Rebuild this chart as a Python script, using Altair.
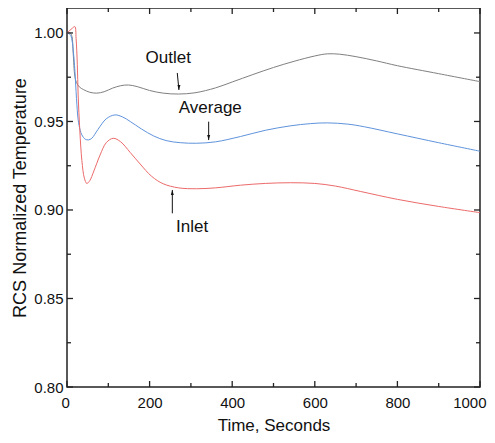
import altair as alt
import pandas as pd

W, H = 413, 379
X_DOMAIN = [0, 1000]
Y_DOMAIN = [0.80, 1.0141]

# ---- data ----
series_names = ["Outlet", "Average", "Inlet"]
series_colors = ["#808080", "#5f93dc", "#ec6a6a"]

outlet_t = [0, 8, 12, 15, 19, 23, 30, 40, 55, 72, 90, 110, 130, 149, 170, 200, 233, 270, 310,
            360, 400, 450, 500, 550, 600, 630, 660, 700, 750, 800, 900, 1000]
outlet_v = [1.000, 1.000, 0.998, 0.9885, 0.9755, 0.972, 0.9695, 0.968, 0.9665, 0.966, 0.9668,
            0.9688, 0.9702, 0.9706, 0.9697, 0.9675, 0.966, 0.9655, 0.9662, 0.969, 0.9723,
            0.9765, 0.9805, 0.984, 0.987, 0.9882, 0.988, 0.9866, 0.9842, 0.9815, 0.977, 0.9725]

average_t = [0, 8, 12, 16, 19, 23, 27, 32, 36, 44, 52, 60, 75, 95, 116, 135, 153, 180, 210, 240,
             275, 314, 360, 420, 480, 540, 590, 630, 680, 720, 800, 900, 1000]
average_v = [1.000, 0.999, 0.996, 0.988, 0.979, 0.963, 0.951, 0.945, 0.9424, 0.940, 0.9396,
             0.9405, 0.9455, 0.9515, 0.9537, 0.9525, 0.950, 0.9458, 0.9418, 0.9392, 0.9380,
             0.9377, 0.9385, 0.9415, 0.945, 0.9475, 0.9488, 0.9492, 0.9485, 0.947, 0.943,
             0.938, 0.9332]

inlet_t = [0, 7, 12, 19, 22, 25, 27, 31, 36, 42, 48, 55, 65, 80, 95, 112, 130, 153, 177, 205,
           233, 270, 314, 360, 420, 480, 541, 600, 650, 710, 800, 900, 1000]
inlet_v = [1.000, 1.0015, 1.0025, 1.0036, 0.997, 0.982, 0.965, 0.945, 0.928, 0.918, 0.915,
           0.9165, 0.922, 0.931, 0.938, 0.9405, 0.9385, 0.9325, 0.926, 0.919, 0.9148, 0.9125,
           0.912, 0.9125, 0.914, 0.915, 0.9154, 0.915, 0.9135, 0.9105, 0.906, 0.902, 0.8985]

x_major = [0, 200, 400, 600, 800, 1000]
x_minor = [100, 300, 500, 700, 900]
y_major = [0.80, 0.85, 0.90, 0.95, 1.00]
y_minor = [0.825, 0.875, 0.925, 0.975]

label_text = ["Outlet", "Average", "Inlet"]
label_t = [245, 347, 303]
label_v = [0.9857, 0.9576, 0.8904]

arrow_id = ["o", "o", "a", "a", "i", "i"]
arrow_t = [267, 271, 343, 343, 255, 255]
arrow_v = [0.9774, 0.9678, 0.9499, 0.9395, 0.8981, 0.9113]

head_t = [271, 343, 255]
head_v = [0.9678, 0.9395, 0.9113]
head_dir = ["down", "down", "up"]

# ---- tables ----
rows = []
for name, ts, vs in [("Outlet", outlet_t, outlet_v), ("Average", average_t, average_v),
                     ("Inlet", inlet_t, inlet_v)]:
    for t, v in zip(ts, vs):
        rows.append({"series": name, "t": t, "v": v})
df = pd.DataFrame(rows)

labels_df = pd.DataFrame({"text": label_text, "t": label_t, "v": label_v})
arrows_df = pd.DataFrame({"id": arrow_id, "t": arrow_t, "v": arrow_v})
heads_df = pd.DataFrame({"t": head_t, "v": head_v, "dir": head_dir})

xs = alt.Scale(domain=X_DOMAIN, nice=False, zero=False)
ys = alt.Scale(domain=Y_DOMAIN, nice=False, zero=False)

FONT = "Liberation Sans"

lines = alt.Chart(df).mark_line(strokeWidth=1, interpolate="catmull-rom", clip=True).encode(
    x=alt.X("t:Q", scale=xs,
            axis=alt.Axis(title="Time, Seconds", values=x_major, format="d",
                          ticks=False, tickSize=0, domain=False, grid=False,
                          labelFlush=True, labelFlushOffset=6,
                          labelPadding=8, titlePadding=7, titleFontSize=17)),
    y=alt.Y("v:Q", scale=ys,
            axis=alt.Axis(title="RCS Normalized Temperature", values=y_major, format=".2f",
                          ticks=False, tickSize=0, domain=False, grid=False, labelFlush=False,
                          labelPadding=4, titlePadding=4, titleFontSize=18)),
    color=alt.Color("series:N", scale=alt.Scale(domain=series_names, range=series_colors),
                    legend=None),
)

def tick_layer(values, field_type, length, side):
    d = pd.DataFrame({"val": values})
    c = alt.Chart(d).mark_rule(color="#222", strokeWidth=1.3)
    if field_type == "x":
        if side == "bottom":
            return c.encode(x=alt.X("val:Q", scale=xs), y=alt.value(H), y2=alt.value(H - length))
        return c.encode(x=alt.X("val:Q", scale=xs), y=alt.value(0), y2=alt.value(length))
    if side == "left":
        return c.encode(y=alt.Y("val:Q", scale=ys), x=alt.value(0), x2=alt.value(length))
    return c.encode(y=alt.Y("val:Q", scale=ys), x=alt.value(W), x2=alt.value(W - length))

ticks = [
    tick_layer(x_major, "x", 6, "bottom"), tick_layer(x_minor, "x", 4, "bottom"),
    tick_layer(x_major, "x", 6, "top"), tick_layer(x_minor, "x", 4, "top"),
    tick_layer(y_major, "y", 6, "left"), tick_layer(y_minor, "y", 4, "left"),
    tick_layer(y_major, "y", 6, "right"), tick_layer(y_minor, "y", 4, "right"),
]

texts = alt.Chart(labels_df).mark_text(font=FONT, fontSize=17, color="#111",
                                       align="center", baseline="middle").encode(
    x=alt.X("t:Q", scale=xs), y=alt.Y("v:Q", scale=ys), text="text:N")

arrows = alt.Chart(arrows_df).mark_line(color="#111", strokeWidth=1).encode(
    x=alt.X("t:Q", scale=xs), y=alt.Y("v:Q", scale=ys), detail="id:N")

heads = alt.Chart(heads_df).mark_point(filled=True, size=100, color="#111", opacity=1,
                                       strokeWidth=0).encode(
    x=alt.X("t:Q", scale=xs), y=alt.Y("v:Q", scale=ys),
    shape=alt.Shape("dir:N", scale=alt.Scale(domain=["down", "up"],
                                             range=["M-0.3,-1L0.3,-1L0,0Z",
                                                    "M-0.3,1L0.3,1L0,0Z"]),
                    legend=None))

chart = alt.layer(lines, *ticks, arrows, heads, texts).properties(
    width=W, height=H,
    padding={"left": 59, "top": 0, "right": 7, "bottom": 47},
    autosize=alt.AutoSizeParams(type="none"),
    background="white",
).configure_view(
    stroke="#222", strokeWidth=1.5
).configure_axis(
    labelFont=FONT, labelFontSize=15, labelColor="#111",
    titleFont=FONT, titleColor="#111", titleFontWeight="normal",
).resolve_scale(color="independent")

chart.save("out.html", embed_options={"renderer": "svg", "actions": False})
